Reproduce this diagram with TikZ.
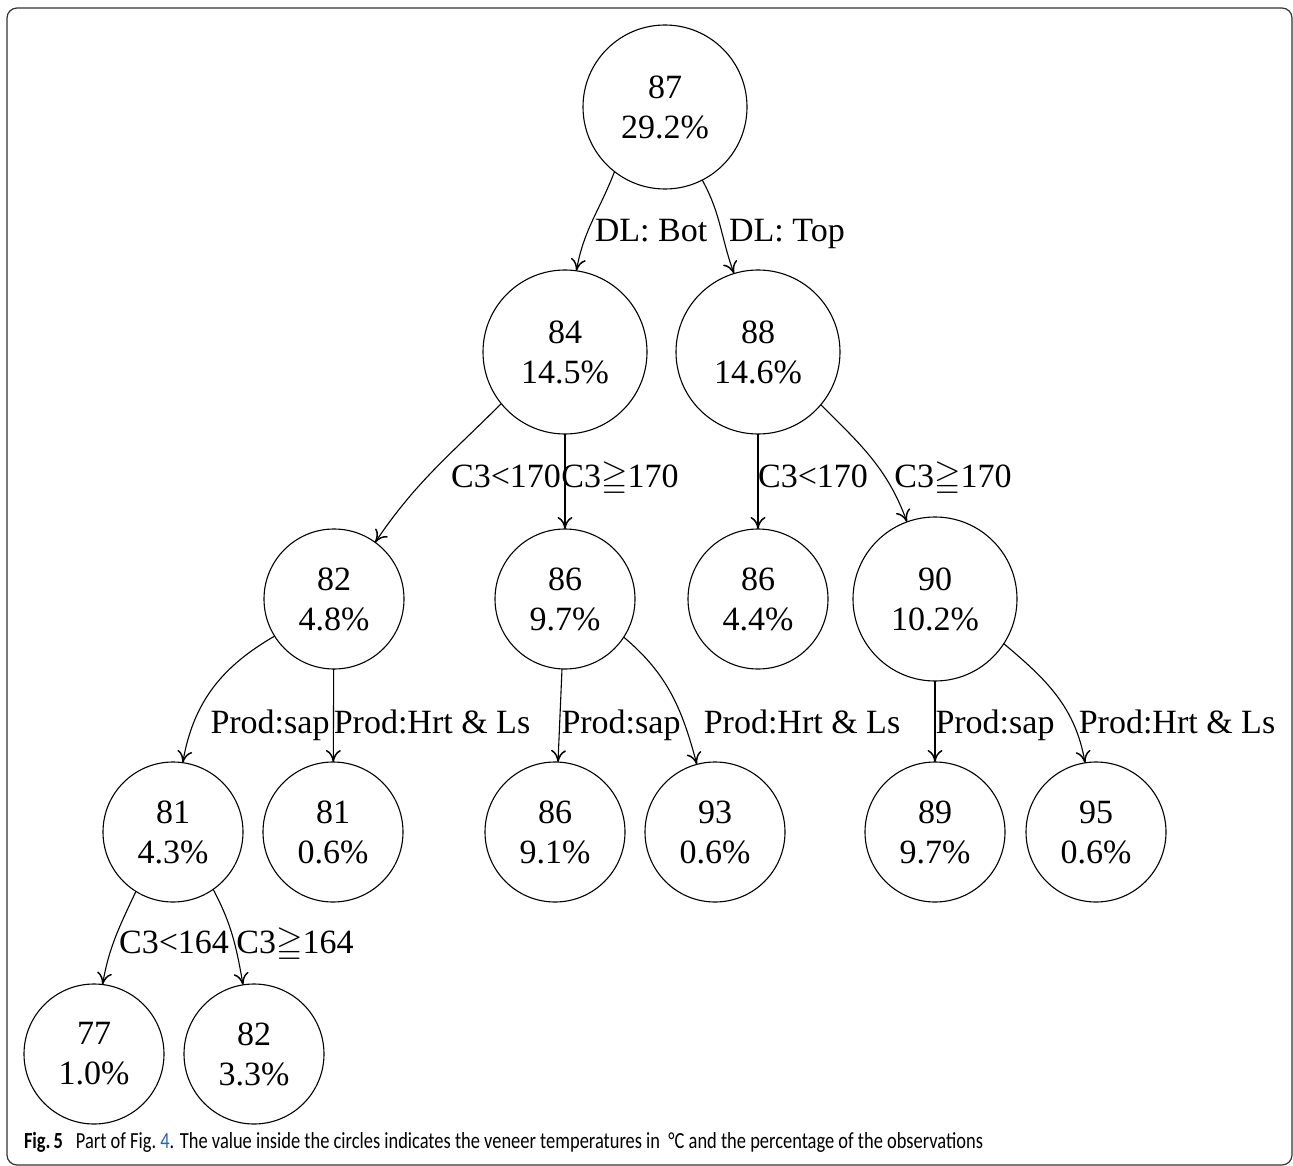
\documentclass[tikz,border=0pt]{standalone}
\usepackage{fontspec}
\usepackage{amssymb}
\usepackage{graphicx}
\setmainfont{Liberation Serif}
\newfontfamily\capfont{Carlito}
\usetikzlibrary{arrows.meta}
\definecolor{linkblue}{RGB}{35,100,190}

\begin{document}
\begin{tikzpicture}[x=1pt,y=1pt,
  every node/.style={inner sep=0pt,outer sep=0pt},
  treefont/.style={font=\fontsize{34}{40}\selectfont},
  bignode/.style={circle,draw,line width=1.1pt,minimum size=164pt,align=center,treefont},
  smallnode/.style={bignode,minimum size=140pt},
  edge/.style={line width=1.1pt,-{To[length=12pt,width=15pt,line width=1.5pt]}},
  elabel/.style={anchor=base,treefont}]

\useasboundingbox (0,0) rectangle (1293,-1166);
\draw[line width=1.2pt,black!80,rounded corners=10pt] (7,-8) rectangle (1292,-1165);

% tree nodes: temperature and share of observations
\node[bignode]   (r)    at (665,-107)  {87\\29.2\%};
\node[bignode]   (n84)  at (565,-352)  {84\\14.5\%};
\node[bignode]   (n88)  at (758,-352)  {88\\14.6\%};
\node[smallnode] (n82)  at (334,-599)  {82\\4.8\%};
\node[smallnode] (n86a) at (565,-599)  {86\\9.7\%};
\node[smallnode] (n86b) at (758,-599)  {86\\4.4\%};
\node[bignode]   (n90)  at (935,-599)  {90\\10.2\%};
\node[smallnode] (n81a) at (173,-832)  {81\\4.3\%};
\node[smallnode] (n81b) at (333,-832)  {81\\0.6\%};
\node[smallnode] (n86c) at (555,-832)  {86\\9.1\%};
\node[smallnode] (n93)  at (715,-832)  {93\\0.6\%};
\node[smallnode] (n89)  at (935,-832)  {89\\9.7\%};
\node[smallnode] (n95)  at (1096,-832) {95\\0.6\%};
\node[smallnode] (n77)  at (94,-1054)  {77\\1.0\%};
\node[smallnode] (n82b) at (254,-1054) {82\\3.3\%};

% split conditions
\node[elabel] (lbot) at (651,-242)  {DL: Bot};
\node[elabel] (ltop) at (787,-242)  {DL: Top};
\node[elabel] (la)   at (506,-487)  {C3<170};
\node[elabel] (lb)   at (620,-487)  {C3$\geqq$170};
\node[elabel] (lc)   at (813,-487)  {C3<170};
\node[elabel] (ld)   at (953,-487)  {C3$\geqq$170};
\node[elabel] (le)   at (270,-733)  {Prod:sap};
\node[elabel] (lf)   at (432,-733)  {Prod:Hrt \& Ls};
\node[elabel] (lg)   at (621,-733)  {Prod:sap};
\node[elabel] (lh)   at (802,-733)  {Prod:Hrt \& Ls};
\node[elabel] (li)   at (995,-733)  {Prod:sap};
\node[elabel] (lj)   at (1177,-733) {Prod:Hrt \& Ls};
\node[elabel] (lk)   at (174,-953)  {C3<164};
\node[elabel] (ll)   at (295,-953)  {C3$\geqq$164};

% branches
\draw[edge] (r.232) to[out=249,in=80] (n84.82);
\draw[edge] (r.297) to[out=-61,in=110] (n88.107);
\draw[edge] (n84.219) to[out=225,in=56] (n82.54);
\draw[edge] (n84) -- (n86a);
\draw[edge] (n88) -- (n86b);
\draw[edge] (n88.320) to[out=-45,in=110] (n90.110);
\draw[edge] (n82.212) to[out=210,in=80] (n81a.82);
\draw[edge] (n82) -- (n81b);
\draw[edge] (n86a) -- (n86c);
\draw[edge] (n86a.327) to[out=-40,in=105] (n93.105);
\draw[edge] (n90) -- (n89);
\draw[edge] (n90.327) to[out=-40,in=100] (n95.99);
\draw[edge] (n81a.238) to[out=245,in=80] (n77.83);
\draw[edge] (n81a.305) to[out=-62,in=100] (n82b.99);

% caption
\node[anchor=base west] (cap) at (24,-1148) {\scalebox{1}[1.25]{\resizebox{959pt}{!}{\capfont\fontsize{20}{24}\selectfont\textbf{Fig.\,5}\hspace{0.7em}Part of Fig.~\textcolor{linkblue}{4}. The value inside the circles indicates the veneer temperatures in~ °C and the percentage of the observations}}};
\end{tikzpicture}
\end{document}
